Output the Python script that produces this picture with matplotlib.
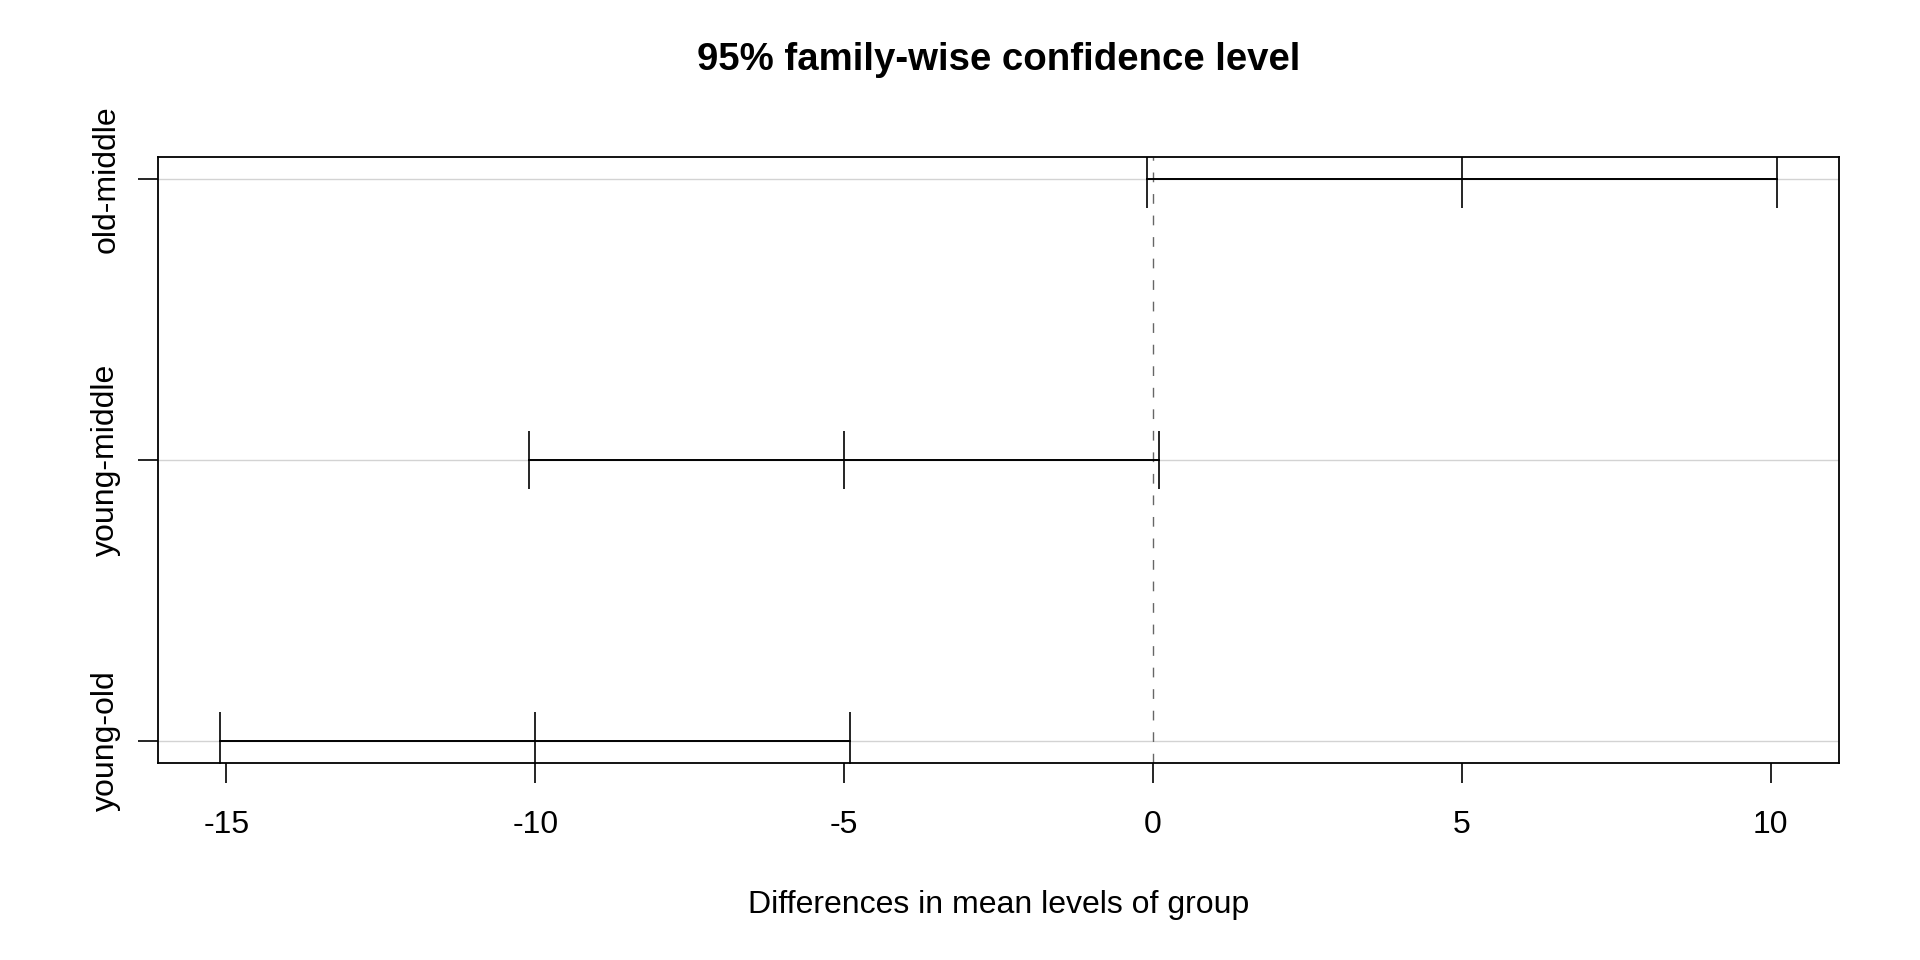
import numpy as np
import matplotlib
matplotlib.use("Agg")
import matplotlib.pyplot as plt

plt.rcParams['font.family'] = ['Liberation Sans', 'DejaVu Sans']

# Tukey HSD results (bottom to top)
comparisons = ["young-old", "young-middle", "old-middle"]
diff = [-10.0, -5.0, 5.0]
lwr = [-15.1, -10.1, -0.1]
upr = [-4.9, 0.1, 10.1]
xticks = [-15, -10, -5, 0, 5, 10]

yvals = np.arange(1, len(comparisons) + 1)

fig = plt.figure(figsize=(19.2, 9.6), dpi=100)
ax = fig.add_axes([0.0823, 0.2052, 0.8755, 0.6313])

# R-style axis range: data range extended by 4%
lo, hi = min(lwr), max(upr)
pad = 0.04 * (hi - lo)
ax.set_xlim(lo - pad, hi + pad)
ax.set_ylim(1 - 0.04 * 2, len(comparisons) + 0.04 * 2)

for y in yvals:
    ax.axhline(y, color="#d3d3d3", lw=1.0, zorder=1)
ax.axvline(0, color="#666666", lw=1.0, dashes=(7, 8.5), zorder=1)

for y, l, d, u in zip(yvals, lwr, diff, upr):
    ax.plot([l, u], [y, y], color="black", lw=1.4, zorder=3)
    ax.plot([l, d, u], [y, y, y], ls="none", marker="|", markersize=42,
            markeredgewidth=1.2, color="black", zorder=3)

ax.set_xticks(xticks)
ax.set_xticklabels([str(t) for t in xticks])
ax.set_yticks(yvals)
ax.set_yticklabels(comparisons, rotation=90, va="center")
ax.tick_params(axis="both", direction="out", length=14.5, width=1.2,
               labelsize=23, colors="black")
ax.tick_params(axis="x", pad=19)
ax.tick_params(axis="y", pad=12)
for s in ax.spines.values():
    s.set_linewidth(1.3)

ax.set_xlabel("Differences in mean levels of group", fontsize=23, labelpad=36)
fig.suptitle("95% family-wise confidence level", fontsize=27.6,
             fontweight="bold", x=0.52, y=0.9375, va="center")

fig.savefig("out.png", dpi=100)
